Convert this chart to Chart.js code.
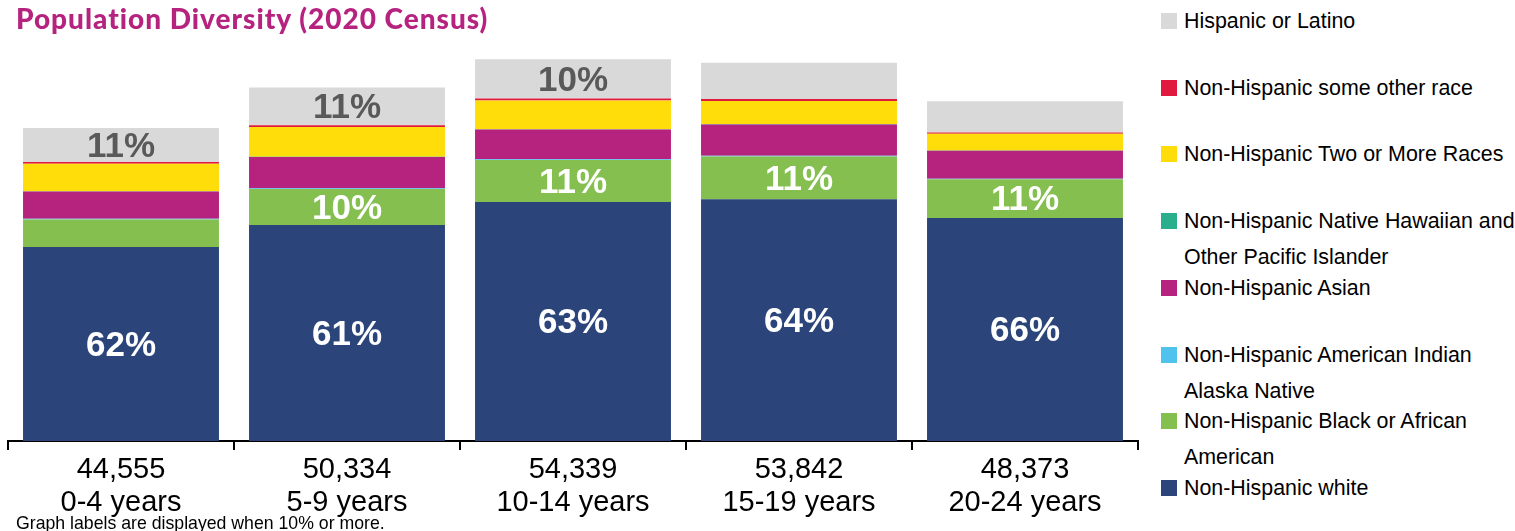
<!DOCTYPE html>
<html>
<head>
<meta charset="utf-8">
<script src="https://cdn.jsdelivr.net/npm/chart.js@4"></script>
<style>
  html, body { margin: 0; padding: 0; background: #fff; }
  #wrap { position: relative; width: 1515px; height: 531px; overflow: hidden; font-family: "Liberation Sans", Arial, sans-serif; }
  #title { position: absolute; left: 16px; top: 1px; font-family: Lato, "Open Sans", sans-serif; font-weight: 900; font-size: 28px; letter-spacing: 1px; color: #B5237F; white-space: nowrap; }
  #chartBox { position: absolute; left: 0; top: 0; width: 1140px; height: 531px; }
  #note { position: absolute; left: 16px; top: 513px; font-size: 17.7px; color: #000; white-space: nowrap; line-height: 20px; }
  .leg { position: absolute; left: 1161px; font-size: 21.4px; line-height: 36px; color: #000; white-space: nowrap; }
  .leg .box { position: absolute; left: 0; top: 10px; width: 16px; height: 16px; }
  .leg .txt { position: absolute; left: 23px; top: 0; }
</style>
</head>
<body>
<div id="wrap">
  <div id="chartBox"><canvas id="c"></canvas></div>
  <div id="title">Population Diversity (2020 Census)</div>
  <div id="legend"></div>
  <div id="note">Graph labels are displayed when 10% or more.</div>
</div>
<script>
// ---- Data ----
const ageGroups = ["0-4 years", "5-9 years", "10-14 years", "15-19 years", "20-24 years"];
const totals = [44555, 50334, 54339, 53842, 48373];

// Shares (percent of each age group), bottom of stack to top
const pctWhite    = [62.0, 61.1, 62.6, 63.9, 65.6];
const pctBlack    = [ 8.8, 10.2, 11.0, 11.3, 11.4];
const pctAIAN     = [ 0.2,  0.2,  0.2,  0.2,  0.2];
const pctAsian    = [ 8.7,  8.8,  7.8,  8.3,  8.2];
const pctNHPI     = [ 0.1,  0.1,  0.1,  0.1,  0.1];
const pctTwoMore  = [ 8.8,  8.4,  7.5,  6.1,  4.9];
const pctOther    = [ 0.5,  0.5,  0.5,  0.5,  0.4];
const pctHispanic = [10.9, 10.7, 10.3,  9.6,  9.2];

const seriesNames = [
  "Non-Hispanic white",
  "Non-Hispanic Black or African American",
  "Non-Hispanic American Indian Alaska Native",
  "Non-Hispanic Asian",
  "Non-Hispanic Native Hawaiian and Other Pacific Islander",
  "Non-Hispanic Two or More Races",
  "Non-Hispanic some other race",
  "Hispanic or Latino"
];
const seriesPct = [pctWhite, pctBlack, pctAIAN, pctAsian, pctNHPI, pctTwoMore, pctOther, pctHispanic];
const seriesColors = ["#2B457A", "#85BF50", "#4FC3EE", "#B5237F", "#2BAE8C", "#FFDD0A", "#E01A3F", "#D9D9D9"];
const labelColors  = ["#FFFFFF", "#FFFFFF", "#FFFFFF", "#FFFFFF", "#FFFFFF", "#595959", "#FFFFFF", "#595959"];

// legend layout (top to bottom) with explicit line breaks as in the reference
const legendLines = [
  ["Hispanic or Latino"],
  ["Non-Hispanic some other race"],
  ["Non-Hispanic Two or More Races"],
  ["Non-Hispanic Native Hawaiian and", "Other Pacific Islander"],
  ["Non-Hispanic Asian"],
  ["Non-Hispanic American Indian", "Alaska Native"],
  ["Non-Hispanic Black or African", "American"],
  ["Non-Hispanic white"]
];
const legendColorIdx = [7, 6, 5, 4, 3, 2, 1, 0];

// ---- Build legend ----
const legEl = document.getElementById('legend');
legendLines.forEach((lines, i) => {
  const d = document.createElement('div');
  d.className = 'leg';
  d.style.top = (3 + i * 66.7) + 'px';
  d.innerHTML = '<div class="box" style="background:' + seriesColors[legendColorIdx[i]] + '"></div><div class="txt">' + lines.join('<br>') + '</div>';
  legEl.appendChild(d);
});

// ---- Chart ----
const datasets = seriesPct.map((pcts, s) => ({
  label: seriesNames[s],
  data: pcts.map((p, i) => totals[i] * p / 100),
  pct: pcts,
  backgroundColor: seriesColors[s],
  borderWidth: 0,
  categoryPercentage: 1.0,
  barPercentage: 0.867
}));

const labelPlugin = {
  id: 'segLabels',
  afterDatasetsDraw(chart) {
    const ctx = chart.ctx;
    ctx.save();
    ctx.font = 'bold 35px "Liberation Sans", Arial, sans-serif';
    ctx.textAlign = 'center';
    ctx.textBaseline = 'middle';
    chart.data.datasets.forEach((ds, di) => {
      const meta = chart.getDatasetMeta(di);
      meta.data.forEach((bar, i) => {
        const p = ds.pct[i];
        if (p >= 10) {
          ctx.fillStyle = labelColors[di];
          const yMid = (bar.y + bar.base) / 2;
          ctx.fillText(Math.round(p) + '%', bar.x, yMid + 2);
        }
      });
    });
    ctx.restore();
  }
};

new Chart(document.getElementById('c'), {
  type: 'bar',
  data: {
    labels: ageGroups.map((g, i) => [totals[i].toLocaleString('en-US'), g]),
    datasets: datasets
  },
  options: {
    responsive: true,
    maintainAspectRatio: false,
    animation: false,
    layout: { padding: { left: 8, right: 2, top: 19.5, bottom: 0 } },
    plugins: { legend: { display: false }, tooltip: { enabled: false } },
    scales: {
      x: {
        stacked: true,
        afterFit(scale) { scale.height = 90; },
        grid: { offset: true, drawOnChartArea: false, drawTicks: true, tickLength: 9, color: '#000', lineWidth: 2 },
        border: { display: true, color: '#000', width: 2 },
        ticks: {
          color: '#000',
          padding: 4,
          font: { family: '"Liberation Sans", Arial, sans-serif', size: 29, lineHeight: 1.12 },
          maxRotation: 0, autoSkip: false
        }
      },
      y: {
        stacked: true,
        display: false,
        min: 0,
        max: 60000
      }
    }
  },
  plugins: [labelPlugin]
});
</script>
</body>
</html>
